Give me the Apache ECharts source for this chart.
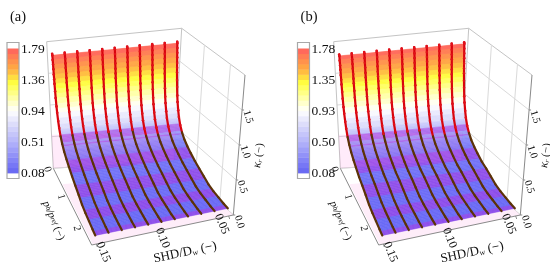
<!DOCTYPE html>
<html><head><meta charset="utf-8">
<style>html,body{margin:0;padding:0;background:#fff}#c{width:550px;height:267px}</style>
<script src="https://cdn.jsdelivr.net/npm/echarts@6/dist/echarts.min.js"></script>
</head><body><div id="c"></div>
<script>
// ---- data ----
const shdValues = [0.15,0.14,0.13,0.12,0.11,0.10,0.09,0.08,0.07,0.06,0.05];
const pValues = [0.03,0.04,0.05,0.06,0.07,0.08,0.09,0.10,0.12,0.14,0.17,0.20,0.25,0.30,0.38,0.48,0.60,0.75,0.90,1.10,1.30,1.50,1.70,1.90,2.10,2.30,2.45];
const kValuesA = [1.81,1.79,1.72,1.65,1.58,1.50,1.43,1.36,1.25,1.15,1.03,0.94,0.83,0.74,0.64,0.56,0.49,0.43,0.38,0.32,0.27,0.22,0.17,0.14,0.12,0.10,0.09];
const kValuesB = [1.80,1.78,1.71,1.64,1.57,1.49,1.42,1.35,1.24,1.14,1.02,0.93,0.82,0.73,0.63,0.55,0.48,0.42,0.37,0.31,0.27,0.22,0.17,0.14,0.12,0.10,0.09];
const barTicksA = ['1.79','1.36','0.94','0.51','0.08'];
const barTicksB = ['1.78','1.35','0.93','0.50','0.08'];
const shdTicks = [0.15,0.10,0.05];
const pTicks = [0,1,2];
const kTicks = [0.0,0.5,1.0,1.5];
const colorStops = [[0.08,'#6464f2'],[0.30,'#8c8cf8'],[0.51,'#b4b4fa'],[0.75,'#dcdcfb'],[0.94,'#ffffff'],[1.10,'#ffffb0'],[1.32,'#ffff40'],[1.50,'#ffb040'],[1.65,'#ff8850'],[1.79,'#ff5f5f']];

// ---- view geometry ----
const SHD_L=0.1535, SHD_R=0.0465, P_MAX=2.5, K_MAX=2.0, BANDS=24, PERSP=0.84;
const box = {A:[53.3,168.3],B:[91.7,245],C:[233.3,215],D:[174,160],
             At:[46.7,41.7],Bt:[89.4,93],Ct:[245,75],Dt:[181.7,28.3]};
const hex=c=>[1,3,5].map(i=>parseInt(c.substr(i,2),16));
const mix=(a,b,t)=>{const x=hex(a),y=hex(b);return '#'+x.map((v,i)=>Math.round(v+(y[i]-v)*t).toString(16).padStart(2,'0')).join('');};
function ramp(k){
  if(k<=colorStops[0][0])return colorStops[0][1];
  for(let i=1;i<colorStops.length;i++){const a=colorStops[i-1],b=colorStops[i];
    if(k<=b[0])return mix(a[1],b[1],(k-a[0])/(b[0]-a[0]));}
  return colorStops[colorStops.length-1][1];
}
function bandOf(k){const n=Math.floor((k-0.08)/(1.79-0.08)*BANDS);return Math.max(0,Math.min(BANDS-1,n));}
function bandKey(k){return 0.08+(bandOf(k)+0.5)*(1.79-0.08)/BANDS;}
function surfColor(k,p){
  const b=bandOf(k);let c=ramp(bandKey(k));
  if(k<0.72){
    const t=Math.min(1,(0.72-k)/0.32);
    c=mix(c,'#6a6af6',0.75*t);
    const odd = p>=0.5 ? Math.floor(p/0.26)%2===1 : b%2===1;
    if(odd) c=mix(c,'#b030e0',0.5);
  }
  return c;
}
function project(dx,shd,p,k){
  const u=(SHD_L-shd)/(SHD_L-SHD_R);
  const t=p/P_MAX, v=PERSP*t/(1+(PERSP-1)*t), w=k/K_MAX;
  const out=[0,1].map(i=>{
    const bot=(box.A[i]*(1-v)+box.B[i]*v)*(1-u)+(box.D[i]*(1-v)+box.C[i]*v)*u;
    const top=(box.At[i]*(1-v)+box.Bt[i]*v)*(1-u)+(box.Dt[i]*(1-v)+box.Ct[i]*v)*u;
    return bot*(1-w)+top*w;});
  out[0]+=dx;return out;
}
const TXT='"Liberation Serif","Times New Roman",serif';
function panelItems(api,cfg){
  const dx=cfg.dx, kv=cfg.k, items=[];
  const P=(s,p,k)=>api.coord(project(dx,s,p,k));
  const poly=(pts,fill,stroke,lw)=>items.push({type:'polygon',shape:{points:pts},style:{fill:fill,stroke:stroke||null,lineWidth:lw||0}});
  const seg=(a,b,c,lw)=>items.push({type:'line',shape:{x1:a[0],y1:a[1],x2:b[0],y2:b[1]},style:{stroke:c,lineWidth:lw||1,fill:null}});
  const text=(pos,str,size,rot,extra)=>items.push({type:'text',x:pos[0],y:pos[1],rotation:rot*Math.PI/180,
    style:Object.assign({text:str,font:size+'px '+TXT,fill:'#111',align:'center',verticalAlign:'middle'},extra||{})});
  const G='#dadada', E='#c4c4c4';
  // walls
  kTicks.concat([2]).forEach(k=>{ seg(P(SHD_L,0,k),P(SHD_R,0,k),k===2?E:G); seg(P(SHD_R,0,k),P(SHD_R,P_MAX,k),k===2?E:G); });
  pTicks.forEach(p=>{ if(p>0) seg(P(SHD_R,p,0),P(SHD_R,p,K_MAX),G); });
  seg(P(SHD_L,0,0),P(SHD_L,0,K_MAX),E);
  seg(P(SHD_R,0,0),P(SHD_R,0,K_MAX),E);
  seg(P(SHD_L,0,0),P(SHD_R,0,0),G);
  seg(P(SHD_R,0,0),P(SHD_R,P_MAX,0),E);
  // pale projection on the floor
  poly([P(0.1525,0.6,0),P(0.1525,P_MAX,0),P(SHD_R,P_MAX,0),P(SHD_R,0.6,0)],'#feedf9');
  // surface, banded by k
  for(let i=0;i<shdValues.length-1;i++){
    const s0=shdValues[i],s1=shdValues[i+1];
    for(let j=1;j<pValues.length-1;j++){
      const M=6;
      for(let m=0;m<M;m++){
        const a=m/M,b=(m+1)/M;
        const pa=pValues[j]+(pValues[j+1]-pValues[j])*a, pb=pValues[j]+(pValues[j+1]-pValues[j])*b;
        const ka=kv[j]+(kv[j+1]-kv[j])*a, kb=kv[j]+(kv[j+1]-kv[j])*b;
        const c=surfColor((ka+kb)/2,(pa+pb)/2);
        poly([P(s0,pa,ka),P(s1,pa,ka),P(s1,pb,kb),P(s0,pb,kb)],c,c,0.6);
      }
    }
  }
  // pale wall overlay
  poly([P(SHD_L,0,0),P(SHD_L,0,0.53),P(SHD_R,0,0.42),P(SHD_R,0,0)],'rgba(255,90,215,0.12)');
  // curves
  const wa=P(SHD_L,0,0.53), wb=P(SHD_R,0,0.42);
  const wallY=x=>wa[1]+(wb[1]-wa[1])*(x-wa[0])/(wb[0]-wa[0]);
  shdValues.forEach(s=>{
    for(let j=0;j<pValues.length-1;j++){
      const a=P(s,pValues[j],kv[j]),b=P(s,pValues[j+1],kv[j+1]);
      const low=(a[1]+b[1])/2>wallY((a[0]+b[0])/2);
      items.push({type:'line',shape:{x1:a[0],y1:a[1],x2:b[0],y2:b[1]},style:{stroke:low?'#5c3208':'#d8040c',lineWidth:2.2,lineCap:'round',fill:null}});
    }
    pValues.forEach((p,j)=>{
      const c=P(s,p,kv[j]), low=c[1]>wallY(c[0]);
      if(!low) items.push({type:'circle',shape:{cx:c[0],cy:c[1],r:1.3},style:{fill:'#e0101a'}});
    });
  });
  // axes
  const AX='#8a8a8a';
  seg(P(SHD_L,0,0),P(SHD_L,P_MAX,0),AX);
  seg(P(SHD_L,P_MAX,0),P(SHD_R,P_MAX,0),AX);
  seg(P(SHD_R,P_MAX,0),P(SHD_R,P_MAX,K_MAX),AX);
  shdTicks.forEach(s=>{
    const a=P(s,P_MAX,0); seg(a,[a[0]+1,a[1]+3],AX);
    text([a[0]+(s-0.10)*140,a[1]+8],s.toFixed(2),12,-68);
  });
  pTicks.forEach(p=>{
    const a=P(SHD_L,p,0);
    text([a[0]-6,a[1]+1],String(p),10.5,-75);
  });
  kTicks.forEach(k=>{
    const a=P(SHD_R,P_MAX,k); seg(a,[a[0]+2,a[1]],AX);
    text([a[0]+6,a[1]+7],k.toFixed(1),10.5,-72);
  });
  const c0=P(SHD_R,P_MAX,0.92);
  text([c0[0]+20,c0[1]+5],'{i|κ}{s|r} (−)',11,82,{rich:{i:{font:'italic 12px '+TXT,fill:'#111'},s:{font:'italic 7px '+TXT,fill:'#111',verticalAlign:'bottom'}}});
  const m=P(0.098,P_MAX,0);
  text([m[0]+20,m[1]+23],'{a|SHD/D}{s|w}{a| (−)}',13,12,{rich:{a:{font:'13px '+TXT,fill:'#111'},s:{font:'8px '+TXT,fill:'#111',verticalAlign:'bottom'}}});
  const q=P(SHD_L,1.55,0);
  text([q[0]-22,q[1]+8],'{i|p}{s|b}{i|/p}{s|ref}{a| (−)}',11,-67,{rich:{i:{font:'italic 11px '+TXT,fill:'#111'},a:{font:'11px '+TXT,fill:'#111'},s:{font:'italic 7px '+TXT,fill:'#111'}}});
  // colour bar
  const bx=cfg.bx, bW=12, topY=48.5, botY=173;
  const h=(botY-topY)/BANDS;
  for(let n=0;n<BANDS;n++){
    const kk=0.08+(n+0.5)*(1.79-0.08)/BANDS, y=botY-(n+1)*h;
    const a=api.coord([bx,y]),b=api.coord([bx+bW,y+h]);
    items.push({type:'rect',shape:{x:a[0],y:a[1],width:b[0]-a[0],height:b[1]-a[1]+0.4},style:{fill:ramp(kk)}});
  }
  const f=api.coord([bx,42.5]),g=api.coord([bx+bW,178.5]);
  items.push({type:'rect',shape:{x:f[0],y:f[1],width:g[0]-f[0],height:g[1]-f[1]},style:{fill:null,stroke:'#a8a8a8',lineWidth:1.2}});
  cfg.ticks.forEach((t,i)=>{
    const y=botY-(4-i)*(botY-topY)/4;
    text(api.coord([bx+14,y+0.5]),t,13.5,0,{align:'left'});
  });
  text(api.coord([cfg.lx,17]),cfg.label,14.5,0);
  return items;
}
const panels=[
  {dx:0,k:kValuesA,ticks:barTicksA,bx:7,lx:18,label:'(a)'},
  {dx:287,k:kValuesB,ticks:barTicksB,bx:297.5,lx:309,label:'(b)'}
];
const chart=echarts.init(document.getElementById('c'),null,{renderer:'canvas'});
chart.setOption({
  animation:false,
  backgroundColor:'#fff',
  grid:{left:0,right:0,top:0,bottom:0},
  xAxis:{type:'value',min:0,max:550,show:false},
  yAxis:{type:'value',min:0,max:267,inverse:true,show:false},
  series:panels.map((cfg,i)=>({
    type:'custom',name:cfg.label,coordinateSystem:'cartesian2d',clip:false,silent:true,
    data:[[0,0]],
    renderItem:(params,api)=>({type:'group',children:panelItems(api,cfg)})
  }))
});
</script></body></html>
